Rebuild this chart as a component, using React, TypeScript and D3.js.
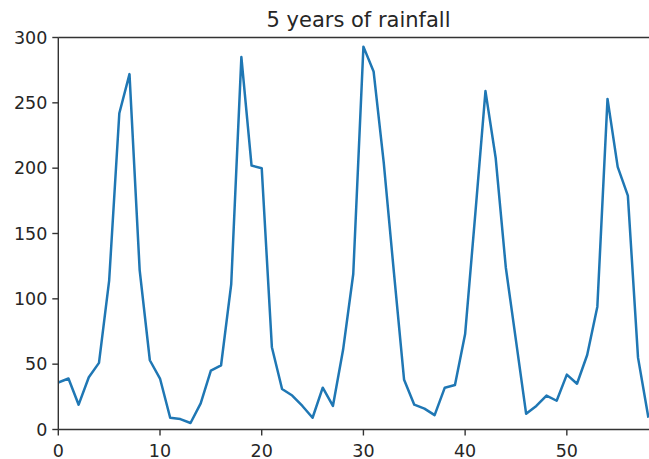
import React from "react";
import * as d3 from "d3";

const title = "5 years of rainfall";
const months: number[] = d3.range(0, 59);
const rainfall: number[] = [
  36, 39, 19, 40, 51, 114, 242, 272, 122, 53,
  39, 9, 8, 5, 20, 45, 49, 111, 285, 202,
  200, 63, 31, 26, 18, 9, 32, 18, 61, 119,
  293, 274, 204, 120, 38, 19, 16, 11, 32, 34,
  73, 165, 259, 208, 124, 68, 12, 18, 26, 22,
  42, 35, 57, 94, 253, 201, 179, 55, 10,
];
const xTicks = [0, 10, 20, 30, 40, 50];
const yTicks = [0, 50, 100, 150, 200, 250, 300];

const W = 649;
const H = 459;
const left = 58.3;
const top = 37.5;
const bottom = 429.5;
const right = 648.2;
const font = "DejaVu Sans, sans-serif";
const textColor = "#262626";

export default function App() {
  const x = d3.scaleLinear().domain([0, 58]).range([left, right]);
  const y = d3.scaleLinear().domain([0, 300]).range([bottom, top]);
  const line = d3
    .line<number>()
    .x((_, i) => x(months[i]))
    .y((d) => y(d));

  return (
    <svg
      width={W}
      height={H}
      style={{ position: "absolute", left: 0, top: 0, background: "#fff" }}
    >
      <defs>
        <clipPath id="plotclip">
          <rect x={left} y={top - 2} width={W - left} height={bottom - top + 4} />
        </clipPath>
      </defs>
      <path
        d={line(rainfall) || ""}
        fill="none"
        stroke="#1f77b4"
        strokeWidth={2.5}
        strokeLinejoin="round"
        strokeLinecap="square"
        clipPath="url(#plotclip)"
      />
      {/* spines */}
      <line x1={left} x2={left} y1={top} y2={bottom} stroke="#333" strokeWidth={1.4} />
      <line x1={left} x2={W} y1={bottom} y2={bottom} stroke="#333" strokeWidth={1.4} />
      <line x1={left} x2={W} y1={top} y2={top} stroke="#333" strokeWidth={1.4} />
      {/* x ticks */}
      {xTicks.map((t) => (
        <g key={"x" + t}>
          <line x1={x(t)} x2={x(t)} y1={bottom} y2={bottom + 6} stroke="#333" strokeWidth={1.4} />
          <text
            x={x(t)}
            y={bottom + 27.5}
            textAnchor="middle"
            fontFamily={font}
            fontSize={17.5}
            fill={textColor}
          >
            {t}
          </text>
        </g>
      ))}
      {/* y ticks */}
      {yTicks.map((t) => (
        <g key={"y" + t}>
          <line x1={left - 6} x2={left} y1={y(t)} y2={y(t)} stroke="#333" strokeWidth={1.4} />
          <text
            x={left - 11}
            y={y(t)}
            dy="0.35em"
            textAnchor="end"
            fontFamily={font}
            fontSize={17.5}
            fill={textColor}
          >
            {t}
          </text>
        </g>
      ))}
      <text
        x={358.5}
        y={27}
        textAnchor="middle"
        fontFamily={font}
        fontSize={21}
        fill={textColor}
      >
        {title}
      </text>
    </svg>
  );
}
